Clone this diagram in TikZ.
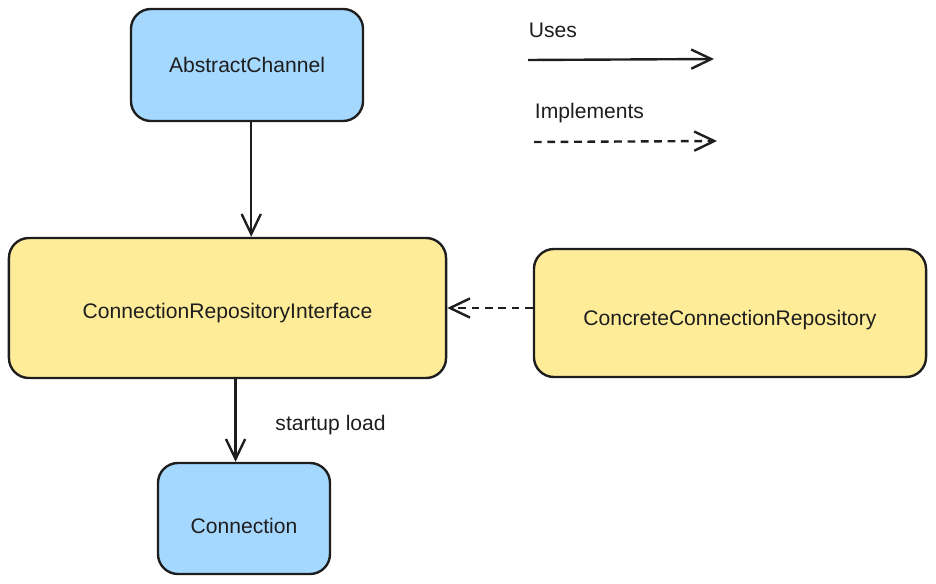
\documentclass[tikz,border=0pt]{standalone}
\usepackage{fontspec}
\setmainfont{Liberation Sans}
\usetikzlibrary{arrows.meta,positioning}

\definecolor{ink}{HTML}{1E1E1E}
\definecolor{bluefill}{HTML}{A5D8FF}
\definecolor{yellowfill}{HTML}{FFEC99}

\begin{document}
\begin{tikzpicture}[x=0.025cm, y=-0.025cm,
    box/.style={draw=ink, line width=1.7pt, rounded corners=0.5cm, text=ink,
                font=\fontsize{15}{18}\selectfont},
    uses/.style={draw=ink, line width=1.7pt, -{Straight Barb[length=0.5cm, width=0.48cm, line width=1.7pt]}},
    impl/.style={uses, dash pattern=on 5.5pt off 4pt}]

        % Page frame
        \useasboundingbox (0,0) rectangle (936,584);

        % The boxes
        \node[box, fill=bluefill, minimum width=5.8cm, minimum height=2.8cm] (AC) at (247,65) {AbstractChannel};
        \node[box, fill=yellowfill, minimum width=10.925cm, minimum height=3.5cm, text height=15pt, text depth=0pt] (CRI) at (227.5,308) {ConnectionRepositoryInterface};
        \node[box, fill=yellowfill, minimum width=9.8cm, minimum height=3.2cm, text height=18pt, text depth=0pt] (CCR) at (730,313) {ConcreteConnectionRepository};
        \node[box, fill=bluefill, minimum width=4.3cm, minimum height=2.775cm, text height=21pt, text depth=0pt] (Conn) at (244,518.5) {Connection};

        % Legend
        \node[right, text=ink, font=\fontsize{15}{18}\selectfont] (UsesLbl) at (524,30) {Uses};
        \node[right, text=ink, font=\fontsize{15}{18}\selectfont] (ImplLbl) at (530,113) {Implements};
        \coordinate (U_1) at (528,60);
        \coordinate (U_2) at (714,59);
        \coordinate (I_1) at (534,142);
        \coordinate (I_2) at (717,141);
        \draw[uses] (U_1) -- (U_2);
        \draw[impl] (I_1) -- (I_2);

        % Draw the connectors
        \draw[uses] ([xshift=3]AC.south) -- ([xshift=3]AC.south |- CRI.north);
        \draw[uses] ([xshift=-6]Conn.north |- CRI.south) -- node[right=0.85cm, pos=0.55, text=ink, font=\fontsize{15}{18}\selectfont] (LoadLbl) {startup load} ([xshift=-6]Conn.north);
        \draw[impl] (CCR.west |- CRI.east) -- (CRI.east);
    \end{tikzpicture}
\end{document}
